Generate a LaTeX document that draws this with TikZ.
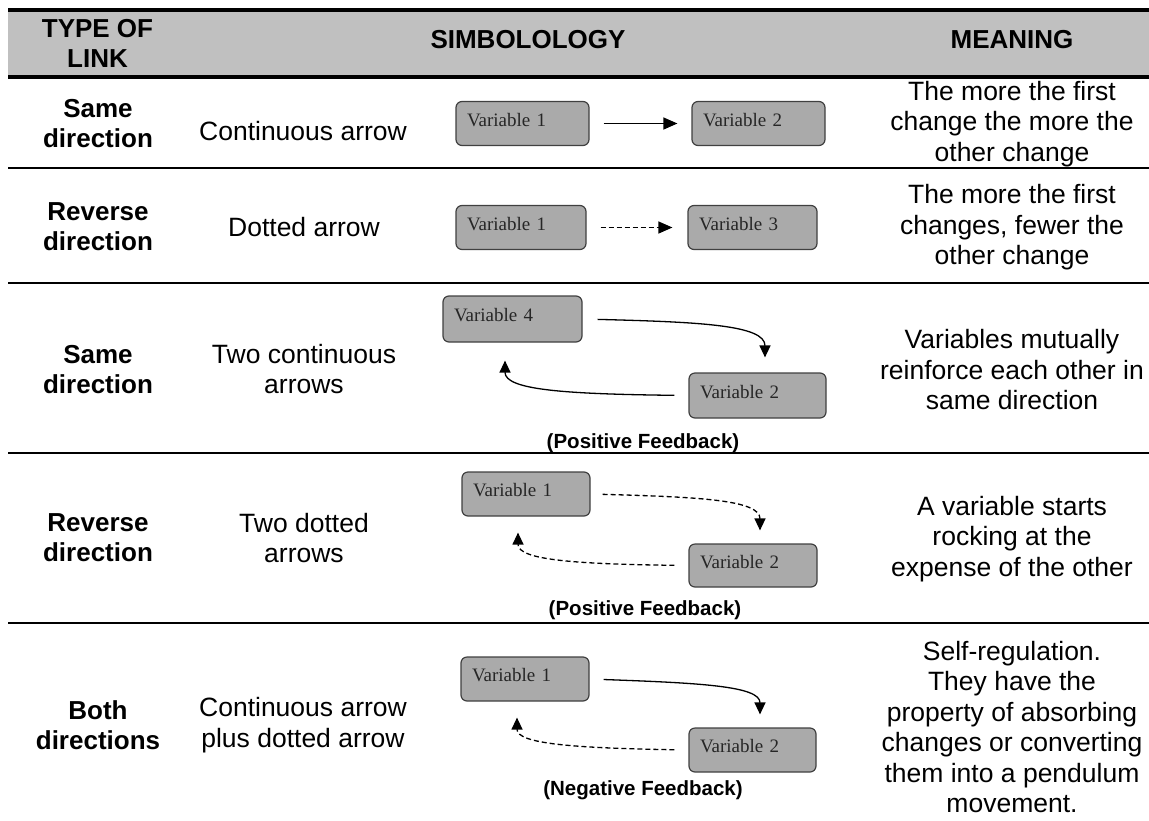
\documentclass[tikz,border=0pt]{standalone}
\usepackage{fontspec}
\setmainfont{Liberation Sans}
\newfontfamily\serifbox{Liberation Serif}
\usetikzlibrary{arrows.meta}
\definecolor{headgrey}{RGB}{192,192,192}
\definecolor{boxgrey}{RGB}{170,170,170}
\definecolor{boxline}{RGB}{64,64,64}

\begin{document}
\begin{tikzpicture}[x=1pt,y=-1pt,
  body/.style={align=center, inner sep=0pt, font=\fontsize{26.5}{30.5}\selectfont},
  kind/.style={align=center, inner sep=0pt, font=\fontsize{26}{30}\selectfont\bfseries},
  fb/.style={inner sep=0pt, font=\fontsize{20.5}{24}\selectfont\bfseries},
  var/.style={draw=boxline, line width=1.2pt, fill=boxgrey, rounded corners=6pt,
    minimum height=44pt, text width=#1, inner xsep=11pt, inner ysep=0pt,
    align=left, text height=13pt, text depth=8pt,
    font=\serifbox\fontsize{19}{22}\selectfont, text=black!85},
  var/.default=108pt,
  rule/.style={line width=2.4pt},
  thickrule/.style={line width=3.6pt},
  link/.style={line width=1.3pt, -{Triangle[length=14pt,width=12pt]}},
  loop/.style={line width=1.3pt, -{Triangle[length=12pt,width=11pt]}},
  dots/.style={dash pattern=on 5pt off 3pt},
]
\useasboundingbox (0,0) rectangle (1149,820);

% header band and table rules
\fill[headgrey] (8,10) rectangle (1149,77);
\draw[thickrule] (8,10) -- (1149,10);
\draw[thickrule] (8,77) -- (1149,77);
\foreach \yy in {168,283,453,623}
  \draw[rule] (8,\yy) -- (1149,\yy);

% header
\node[kind] (hType) at (97.5,43.5) {TYPE OF\\LINK};
\node[kind] (hSym) at (528,40) {SIMBOLOLOGY};
\node[kind] (hMean) at (1012,40) {MEANING};

% first column
\node[kind] (k1) at (98,124) {Same\\direction};
\node[kind] (k2) at (98,227) {Reverse\\direction};
\node[kind] (k3) at (98,370) {Same\\direction};
\node[kind] (k4) at (98,538) {Reverse\\direction};
\node[kind] (k5) at (98,725) {Both\\directions};

% second column
\node[body] (s1) at (303,131) {Continuous arrow};
\node[body] (s2) at (304,227) {Dotted arrow};
\node[body] (s3) at (304,369) {Two continuous\\arrows};
\node[body] (s4) at (304,538) {Two dotted\\arrows};
\node[body] (s5) at (303,725) {Continuous arrow\\plus dotted arrow};

% meaning column
\node[body] (m1) at (1012,124) {The more the first\\change the more the\\other change};
\node[body] (m2) at (1012,227.5) {The more the first\\changes, fewer the\\other change};
\node[body] (m3) at (1012,370) {Variables mutually\\reinforce each other in\\same direction};
\node[body] (m4) at (1012,539) {A variable starts\\rocking at the\\expense of the other};
\node[body] (m5) at (1012,727) {Self-regulation.\\They have the\\property of absorbing\\changes or converting\\them into a pendulum\\movement.};

% row 1: continuous arrow
\node[var=111pt] (a1) at (522.5,123.5) {Variable 1};
\node[var=111pt] (a2) at (758.5,123.5) {Variable 2};
\draw[link, shorten <=14pt, shorten >=14pt] (a1.east) -- (a2.west);

% row 2: dotted arrow
\node[var=108pt] (b1) at (521,227.5) {Variable 1};
\node[var=107pt] (b2) at (752.5,227.5) {Variable 3};
\draw[link, dots, shorten <=14pt, shorten >=15pt] (b1.east) -- (b2.west);

% row 3: two continuous arrows
\node[var=117pt, minimum height=46pt] (c1) at (512.5,319) {Variable 4};
\node[var=115pt, minimum height=45pt] (c2) at (757.5,395.5) {Variable 2};
\draw[loop, shorten <=15pt, shorten >=15pt]
  (c1.east) .. controls (700,322) and (765,325) .. ([xshift=7.5pt]c2.north);
\draw[loop, shorten <=14pt, shorten >=18pt]
  (c2.west) .. controls (565,394) and (505,390) .. ([xshift=-7.5pt]c1.south);
\node[fb] (f3) at (643,443) {(Positive Feedback)};

% row 4: two dotted arrows
\node[var=106pt] (d1) at (526,494) {Variable 1};
\node[var=106pt, minimum height=43pt] (d2) at (753,565.5) {Variable 2};
\draw[loop, dots, shorten <=12pt, shorten >=13pt]
  (d1.east) .. controls (700,497) and (760,500) .. ([xshift=7pt]d2.north);
\draw[loop, dots, shorten <=14pt, shorten >=16pt]
  (d2.west) .. controls (575,564) and (518,560) .. ([xshift=-8pt]d1.south);
\node[fb] (f4) at (645,610) {(Positive Feedback)};

% row 5: continuous plus dotted arrow
\node[var=106pt] (e1) at (525,679) {Variable 1};
\node[var=105pt] (e2) at (752.5,750) {Variable 2};
\draw[loop, shorten <=14pt, shorten >=13pt]
  (e1.east) .. controls (700,683) and (760,686) .. ([xshift=7.5pt]e2.north);
\draw[loop, dots, shorten <=14pt, shorten >=16pt]
  (e2.west) .. controls (575,748) and (517,744) .. ([xshift=-8pt]e1.south);
\node[fb] (f5) at (643,790) {(Negative Feedback)};
\end{tikzpicture}
\end{document}
